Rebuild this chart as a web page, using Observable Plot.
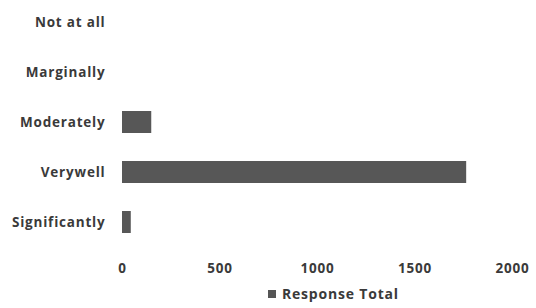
<!DOCTYPE html>
<html>
<head>
<meta charset="utf-8">
<script src="https://cdn.jsdelivr.net/npm/d3@7"></script>
<script src="https://cdn.jsdelivr.net/npm/@observablehq/plot@0.6"></script>
<style>
  body { margin: 0; background: #fff; font-family: "Open Sans", sans-serif; }
  #chart { width: 536px; }
  .legend { position: relative; height: 28px; font: bold 14px "Open Sans", sans-serif; letter-spacing: 0.8px; color: #3a3a3a; }
  .legend .item { position: absolute; left: 268px; top: 4px; display: flex; align-items: center; gap: 6px; }
  .legend .sw { width: 8px; height: 8px; background: #555; display: inline-block; }
</style>
</head>
<body>
<div id="chart"></div>
<script>
const categories = ["Not at all", "Marginally", "Moderately", "Verywell", "Significantly"];
const responseTotal = [0, 0, 150, 1765, 45];
const xTicks = [0, 500, 1000, 1500, 2000];
const seriesName = "Response Total";

const data = categories.map((c, i) => ({category: c, value: responseTotal[i]}));

const plot = Plot.plot({
  width: 536,
  height: 280,
  marginLeft: 122,
  marginRight: 24,
  marginTop: 0,
  marginBottom: 36,
  style: {fontFamily: "'Open Sans', sans-serif", fontSize: "13.5px", fontWeight: "bold", color: "#3a3a3a", background: "#fff", letterSpacing: "0.8px"},
  x: {domain: [0, 2000], ticks: xTicks, tickFormat: d3.format("d"), tickSize: 0, tickPadding: 19, label: null},
  y: {domain: categories, paddingInner: 0.56, paddingOuter: 0.22, tickSize: 0, tickPadding: 17, label: null},
  marks: [
    Plot.barX(data, {x: "value", y: "category", fill: "#575757"})
  ]
});
document.getElementById("chart").appendChild(plot);

const legend = document.createElement("div");
legend.className = "legend";
legend.innerHTML = `<span class="item"><span class="sw"></span>${seriesName}</span>`;
document.getElementById("chart").appendChild(legend);
</script>
</body>
</html>
